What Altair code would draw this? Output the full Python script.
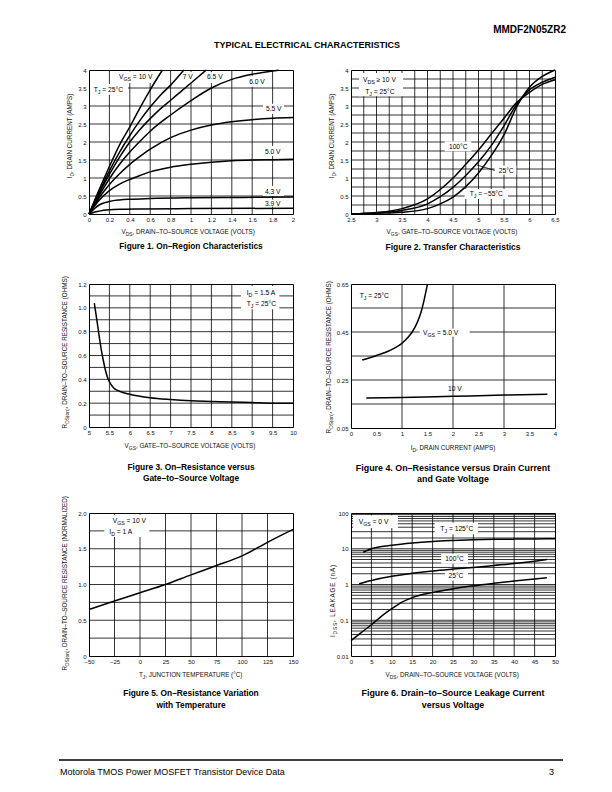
import altair as alt
import numpy as np
import pandas as pd

FONT = "Liberation Sans"

# ---------------- Figure 1: ID vs VDS (curves per VGS) ----------------
f1_vgs10_x = [0, 0.1, 0.2, 0.3, 0.4, 0.5, 0.6, 0.72]
f1_vgs10_y = [0, 0.68, 1.32, 1.92, 2.42, 2.95, 3.45, 4.0]
f1_vgs7_x = [0, 0.1, 0.2, 0.3, 0.4, 0.5, 0.6, 0.7, 0.8, 0.93]
f1_vgs7_y = [0, 0.62, 1.2, 1.72, 2.18, 2.6, 2.97, 3.3, 3.58, 4.0]
f1_vgs65_x = [0, 0.1, 0.2, 0.3, 0.4, 0.5, 0.6, 0.7, 0.8, 0.9, 1.0, 1.15]
f1_vgs65_y = [0, 0.58, 1.1, 1.58, 2.0, 2.35, 2.65, 2.92, 3.16, 3.4, 3.64, 4.0]
f1_vgs6_x = [0, 0.1, 0.2, 0.3, 0.4, 0.5, 0.6, 0.8, 1.0, 1.2, 1.4, 1.6, 1.8, 1.86]
f1_vgs6_y = [0, 0.52, 0.98, 1.38, 1.72, 2.02, 2.3, 2.75, 3.15, 3.5, 3.74, 3.88, 3.97, 3.99]
f1_vgs55_x = [0, 0.1, 0.2, 0.3, 0.4, 0.5, 0.6, 0.8, 1.0, 1.2, 1.4, 1.6, 1.8, 2.0]
f1_vgs55_y = [0, 0.45, 0.82, 1.12, 1.38, 1.6, 1.8, 2.12, 2.33, 2.47, 2.56, 2.62, 2.66, 2.68]
f1_vgs5_x = [0, 0.1, 0.2, 0.3, 0.4, 0.5, 0.6, 0.8, 1.0, 1.2, 1.4, 1.6, 1.8, 2.0]
f1_vgs5_y = [0, 0.38, 0.65, 0.83, 0.96, 1.07, 1.17, 1.3, 1.38, 1.44, 1.48, 1.5, 1.51, 1.52]
f1_vgs43_x = [0, 0.05, 0.1, 0.15, 0.2, 0.3, 0.4, 0.6, 1.0, 1.5, 2.0]
f1_vgs43_y = [0, 0.14, 0.25, 0.31, 0.35, 0.39, 0.41, 0.43, 0.45, 0.46, 0.47]
f1_vgs39_x = [0, 0.05, 0.1, 0.2, 0.3, 0.5, 1.0, 2.0]
f1_vgs39_y = [0, 0.05, 0.08, 0.115, 0.13, 0.14, 0.15, 0.16]

# ---------------- Figure 2: ID vs VGS (transfer) ----------------
f2_vgs = [2.5, 3.0, 3.5, 4.0, 4.25, 4.5, 4.75, 5.0, 5.25, 5.5, 5.75, 6.0, 6.25, 6.5]
f2_t100 = [0.0, 0.04, 0.15, 0.42, 0.68, 1.0, 1.38, 1.78, 2.22, 2.66, 3.1, 3.38, 3.6, 3.73]
f2_t25 = [0.0, 0.03, 0.10, 0.28, 0.48, 0.74, 1.07, 1.45, 1.9, 2.45, 3.05, 3.45, 3.66, 3.8]
f2_tm55 = [0.0, 0.02, 0.05, 0.15, 0.28, 0.47, 0.76, 1.14, 1.62, 2.2, 2.98, 3.52, 3.82, 4.0]
f2_arrow_x = [4.97, 5.32]
f2_arrow_y = [1.36, 1.21]

# ---------------- Figure 3: RDS(on) vs VGS ----------------
f3_vgs = [5.13, 5.2, 5.25, 5.3, 5.35, 5.4, 5.45, 5.5, 5.6, 5.75, 6.0, 6.5, 7.0, 7.5, 8.0, 8.5, 9.0, 9.5, 10.0]
f3_rds = [1.04, 0.88, 0.76, 0.65, 0.56, 0.48, 0.42, 0.38, 0.33, 0.30, 0.275, 0.245, 0.23, 0.22, 0.215, 0.21, 0.205, 0.2, 0.2]

# ---------------- Figure 4: RDS(on) vs ID ----------------
f4_vgs5_id = [0.22, 0.5, 0.75, 1.0, 1.1, 1.2, 1.3, 1.37, 1.43, 1.48, 1.5]
f4_vgs5_r = [0.333, 0.352, 0.372, 0.403, 0.424, 0.45, 0.49, 0.53, 0.58, 0.63, 0.65]
f4_vgs10_id = [0.3, 1.0, 2.0, 3.0, 3.85]
f4_vgs10_r = [0.175, 0.177, 0.182, 0.187, 0.191]

# ---------------- Figure 5: normalized RDS(on) vs TJ ----------------
f5_tj = [-50, -25, 0, 25, 50, 75, 100, 125, 150]
f5_r = [0.65, 0.77, 0.885, 1.0, 1.135, 1.265, 1.4, 1.59, 1.77]

# ---------------- Figure 6: IDSS vs VDS ----------------
f6_t125_x = [3, 5, 10, 15, 20, 25, 30, 35, 40, 45, 50]
f6_t125_y = [8, 10, 12.5, 14.5, 16, 17, 17.8, 18.3, 18.6, 18.8, 19]
f6_t100_x = [2, 5, 10, 15, 20, 25, 30, 35, 40, 45, 48]
f6_t100_y = [1.05, 1.3, 1.7, 2.05, 2.4, 2.7, 3.0, 3.4, 3.85, 4.5, 5.0]
f6_t25_x = [0, 2.5, 5, 7.5, 10, 12.5, 15, 20, 25, 30, 35, 40, 45, 48]
f6_t25_y = [0.027, 0.045, 0.075, 0.13, 0.21, 0.32, 0.43, 0.6, 0.76, 0.92, 1.08, 1.25, 1.42, 1.55]

# ---------------- text helpers ----------------
CW = {' ': 278, '!': 278, '(': 333, ')': 333, ',': 278, '-': 333, '.': 278, '/': 278,
      ':': 278, '=': 584, '≥': 549, '°': 400, '–': 556, '−': 584,
      'A': 667, 'B': 667, 'C': 722, 'D': 722, 'E': 667, 'F': 611, 'G': 778, 'H': 722,
      'I': 278, 'J': 500, 'K': 667, 'L': 556, 'M': 833, 'N': 722, 'O': 778, 'P': 667,
      'Q': 778, 'R': 722, 'S': 667, 'T': 611, 'U': 722, 'V': 667, 'W': 944, 'X': 667,
      'Y': 667, 'Z': 611, 'a': 556, 'b': 556, 'c': 500, 'd': 556, 'e': 556, 'f': 278,
      'g': 556, 'h': 556, 'i': 222, 'j': 222, 'k': 500, 'l': 222, 'm': 833, 'n': 556,
      'o': 556, 'p': 556, 'q': 556, 'r': 333, 's': 500, 't': 278, 'u': 556, 'v': 500,
      'w': 722, 'x': 500, 'y': 500, 'z': 500}


def tw(s, fs):
    return sum(CW.get(ch, 556) for ch in s) * fs / 1000.0


def parse_rich(s):
    parts, buf, i = [], "", 0
    while i < len(s):
        if s.startswith("_{", i):
            if buf:
                parts.append((buf, False))
                buf = ""
            j = s.index("}", i)
            parts.append((s[i + 2:j], True))
            i = j + 1
        else:
            buf += s[i]
            i += 1
    if buf:
        parts.append((buf, False))
    return parts


def rich_segments(s, fs, align, track=0.0):
    segs, pos = [], 0.0
    for t, sub in parse_rich(s):
        f = fs * 0.78 if sub else fs
        drop = fs * 0.3 if sub else 0.0
        if track > 0:
            for ch in t:
                if ch != " ":
                    segs.append({"text": ch, "off": pos, "drop": drop, "size": f})
                pos += tw(ch, f) + track
        else:
            body = t.lstrip(" ")
            pos += tw(" " * (len(t) - len(body)), f)
            if body:
                segs.append({"text": body, "off": pos, "drop": drop, "size": f})
            pos += tw(body, f)
    if track > 0:
        pos -= track
    shift = {"left": 0.0, "center": -pos / 2, "right": -pos}[align]
    for sg in segs:
        sg["off"] += shift
    return segs


def px_text_rows(s, cx, cy, fs, angle=0, align="center", track=0.0):
    rows = []
    for sg in rich_segments(s, fs, align, track):
        if angle == 0:
            rows.append({"px": cx + sg["off"], "py": cy + 0.35 * fs + sg["drop"],
                         "text": sg["text"], "size": sg["size"], "ang": 0})
        else:
            rows.append({"px": cx + 0.35 * fs + sg["drop"], "py": cy - sg["off"],
                         "text": sg["text"], "size": sg["size"], "ang": 270})
    return rows


W = 204
ONE = pd.DataFrame({"a": [0]})


def make_maps(xdom, ydom, h, ylog):
    def x2px(v):
        return (v - xdom[0]) / (xdom[1] - xdom[0]) * W

    def px2x(p):
        return xdom[0] + p / W * (xdom[1] - xdom[0])

    if ylog:
        l0, l1 = np.log10(ydom[0]), np.log10(ydom[1])

        def y2px(v):
            return h - (np.log10(v) - l0) / (l1 - l0) * h

        def px2y(p):
            return float(10 ** (l0 + (h - p) / h * (l1 - l0)))
    else:
        def y2px(v):
            return h - (v - ydom[0]) / (ydom[1] - ydom[0]) * h

        def px2y(p):
            return ydom[0] + (h - p) / h * (ydom[1] - ydom[0])
    return x2px, px2x, y2px, px2y


def data_text_rows(s, x0, yc, fs, maps):
    x2px, px2x, y2px, px2y = maps
    ax, ay = x2px(x0), y2px(yc)
    rows = []
    for sg in rich_segments(s, fs, "left"):
        rows.append({"x": px2x(ax + sg["off"]), "y": px2y(ay + 0.35 * fs + sg["drop"]),
                     "text": sg["text"], "size": sg["size"]})
    return rows


def blank_box(x1, x2, y1, y2):
    return alt.Chart(ONE).mark_rect(opacity=0).encode(
        x=alt.value(x1), x2=alt.value(x2), y=alt.value(y1), y2=alt.value(y2))


AX = dict(ticks=False, domain=False, grid=False, title=None, labelFont=FONT,
          labelFontSize=6, labelColor="#111", labelFlush=False, labelOverlap=False)
ANN_FS = 6.7
TITLE_FS = 6.3


def build_panel(P):
    h = P["h"]
    maps = make_maps(P["xdom"], P["ydom"], h, P["ylog"])
    sx = alt.Scale(domain=P["xdom"], nice=False, zero=False)
    if P["ylog"]:
        sy = alt.Scale(type="log", domain=P["ydom"], nice=False)
    else:
        sy = alt.Scale(domain=P["ydom"], nice=False, zero=False)
    xaxis = alt.Axis(values=P["xlab"], labelPadding=2.5, **P["xfmt"], **AX)
    yaxis = alt.Axis(values=P["ylab"], labelPadding=3, **P["yfmt"], **AX)

    def X(f):
        return alt.X(f, type="quantitative", scale=sx, axis=xaxis)

    def Y(f):
        return alt.Y(f, type="quantitative", scale=sy, axis=yaxis)

    layers = [
        alt.Chart(pd.DataFrame({"gx": P["xgrid"]})).mark_rule(color="black", strokeWidth=0.8)
        .encode(x=X("gx")),
        alt.Chart(pd.DataFrame({"gy": P["ygrid"]})).mark_rule(color="black", strokeWidth=0.8)
        .encode(y=Y("gy")),
    ]
    if P["boxes"]:
        bdf = pd.DataFrame(P["boxes"], columns=["x", "x2", "y", "y2"])
        layers.append(alt.Chart(bdf).mark_rect(color="white").encode(
            x=X("x"), x2="x2:Q", y=Y("y"), y2="y2:Q"))
    rows = []
    for name, xs, ys in P["curves"]:
        for a, b in zip(xs, ys):
            rows.append({"x": a, "y": b, "s": name})
    layers.append(alt.Chart(pd.DataFrame(rows)).mark_line(
        color="black", strokeWidth=1.5, interpolate="monotone").encode(
        x=X("x"), y=Y("y"), detail="s:N"))
    if P.get("thin"):
        trows = []
        for name, xs, ys in P["thin"]:
            for a, b in zip(xs, ys):
                trows.append({"x": a, "y": b, "s": name})
        layers.append(alt.Chart(pd.DataFrame(trows)).mark_line(
            color="black", strokeWidth=0.8).encode(x=X("x"), y=Y("y"), detail="s:N"))
    arows = []
    for s, x0, yc in P["annots"]:
        arows += data_text_rows(s, x0, yc, ANN_FS, maps)
    layers.append(alt.Chart(pd.DataFrame(arows)).mark_text(
        align="left", baseline="alphabetic", font=FONT, color="black").encode(
        x=X("x"), y=Y("y"), text="text:N", size=alt.Size("size:Q", scale=None)))
    trows = []
    xt, xtc = P["xtitle"]
    trows += px_text_rows(xt, xtc[0], xtc[1], TITLE_FS, 0)
    yt, ytc = P["ytitle"]
    trows += px_text_rows(yt, ytc[0], ytc[1], TITLE_FS, 270, track=P.get("ytrack", 0.0))
    layers.append(alt.Chart(pd.DataFrame(trows)).mark_text(
        align="left", baseline="alphabetic", font=FONT, color="#111").encode(
        x=alt.X("px:Q", scale=None), y=alt.Y("py:Q", scale=None),
        text="text:N", size=alt.Size("size:Q", scale=None),
        angle=alt.Angle("ang:Q", scale=None)))
    cdf = pd.DataFrame([{"px": W / 2, "py": cy, "text": t} for t, cy in P["caption"]])
    layers.append(alt.Chart(cdf).mark_text(
        align="center", baseline="middle", font=FONT, fontWeight="bold",
        fontSize=P["capfs"], color="black").encode(
        x=alt.X("px:Q", scale=None), y=alt.Y("py:Q", scale=None), text="text:N"))
    layers.append(blank_box(*P["cell"]))
    return alt.layer(*layers).properties(width=W, height=h)


def steps(a, b, d):
    return [round(v, 4) for v in np.arange(a, b + d / 2, d)]


LBL1 = {"labelExpr": "datum.value == 0 ? '0' : format(datum.value, '.1f')"}
G = {"format": "~g"}
D = {"format": "d"}

P1 = dict(h=144, xdom=[0, 2], ydom=[0, 4], ylog=False,
          xlab=steps(0, 2, 0.2), xgrid=steps(0.2, 1.8, 0.2),
          ylab=steps(0, 4, 0.5), ygrid=steps(0.5, 3.5, 0.5), xfmt=G, yfmt=G,
          boxes=[[0.245, 0.676, 3.96, 3.64], [0.9, 1.04, 3.94, 3.64], [1.137, 1.333, 3.94, 3.64],
                 [1.549, 1.745, 3.83, 3.53], [0.01, 0.382, 3.61, 3.31], [1.706, 1.912, 3.06, 2.78],
                 [1.706, 1.912, 1.89, 1.61], [1.706, 1.912, 0.78, 0.5], [1.706, 1.912, 0.4, 0.2]],
          curves=[("10", f1_vgs10_x, f1_vgs10_y), ("7", f1_vgs7_x, f1_vgs7_y),
                  ("6.5", f1_vgs65_x, f1_vgs65_y), ("6", f1_vgs6_x, f1_vgs6_y),
                  ("5.5", f1_vgs55_x, f1_vgs55_y), ("5", f1_vgs5_x, f1_vgs5_y),
                  ("4.3", f1_vgs43_x, f1_vgs43_y), ("3.9", f1_vgs39_x, f1_vgs39_y)],
          annots=[("V_{GS} = 10 V", 0.294, 3.81), ("7 V", 0.918, 3.81), ("6.5 V", 1.157, 3.81),
                  ("6.0 V", 1.57, 3.69), ("T_{J} = 25°C", 0.046, 3.45), ("5.5 V", 1.735, 2.92),
                  ("5.0 V", 1.725, 1.74), ("4.3 V", 1.725, 0.63), ("3.9 V", 1.725, 0.28)],
          xtitle=("V_{DS}, DRAIN–TO–SOURCE VOLTAGE (VOLTS)", (100, 162)),
          ytitle=("I_{D}, DRAIN CURRENT (AMPS)", (-19.5, 66)),
          caption=[("Figure 1. On–Region Characteristics", 177.3)], capfs=8.3,
          cell=(-80, 232, -11, 195))

P2 = dict(h=144, xdom=[2.5, 6.5], ydom=[0, 4], ylog=False,
          xlab=steps(2.5, 6.5, 0.5), xgrid=steps(2.75, 6.25, 0.25),
          ylab=steps(0, 4, 0.5), ygrid=steps(0.25, 3.75, 0.25), xfmt=G, yfmt=G,
          boxes=[[2.657, 3.52, 3.92, 3.27], [4.337, 4.859, 2.02, 1.74],
                 [5.318, 5.741, 1.342, 1.092], [4.729, 5.578, 0.694, 0.417]],
          curves=[("100", f2_vgs, f2_t100), ("25", f2_vgs, f2_t25), ("-55", f2_vgs, f2_tm55)],
          thin=[("arrow", f2_arrow_x, f2_arrow_y)],
          annots=[("V_{DS} ≥ 10 V", 2.735, 3.73), ("T_{J} = 25°C", 2.78, 3.41),
                  ("100°C", 4.42, 1.88), ("25°C", 5.396, 1.21), ("T_{J} = −55°C", 4.827, 0.556)],
          xtitle=("V_{GS}, GATE–TO–SOURCE VOLTAGE (VOLTS)", (102, 162)),
          ytitle=("I_{D}, DRAIN CURRENT (AMPS)", (-19.5, 66)),
          caption=[("Figure 2. Transfer Characteristics", 177.3)], capfs=8.5,
          cell=(-28, 252, -11, 195))

P3 = dict(h=143, xdom=[5, 10], ydom=[0, 1.2], ylog=False,
          xlab=steps(5, 10, 0.5), xgrid=steps(5.5, 9.5, 0.5),
          ylab=steps(0, 1.2, 0.2), ygrid=steps(0.1, 1.1, 0.1), xfmt=G, yfmt=LBL1,
          boxes=[[8.725, 9.664, 1.183, 0.988]],
          curves=[("r", f3_vgs, f3_rds)],
          annots=[("I_{D} = 1.5 A", 8.865, 1.127), ("T_{J} = 25°C", 8.865, 1.038)],
          xtitle=("V_{GS}, GATE–TO–SOURCE VOLTAGE (VOLTS)", (102, 162)),
          ytitle=("R_{DS(on)}, DRAIN–TO–SOURCE RESISTANCE (OHMS)", (-24.5, 68)),
          caption=[("Figure 3. On–Resistance versus", 182.7), ("Gate–to–Source Voltage", 194.3)],
          capfs=8.4, cell=(-80, 232, -17, 204))

P4 = dict(h=144, xdom=[0, 4], ydom=[0.05, 0.65], ylog=False,
          xlab=steps(0, 4, 0.5), xgrid=[1, 2, 3],
          ylab=[0.05, 0.25, 0.45, 0.65], ygrid=[0.15, 0.25, 0.35, 0.45, 0.55],
          xfmt=G, yfmt={"format": ".2f"},
          boxes=[[1.347, 2.327, 0.465, 0.43]],
          curves=[("5", f4_vgs5_id, f4_vgs5_r), ("10", f4_vgs10_id, f4_vgs10_r)],
          annots=[("T_{J} = 25°C", 0.17, 0.601), ("V_{GS} = 5.0 V", 1.412, 0.449),
                  ("10 V", 1.902, 0.215)],
          xtitle=("I_{D}, DRAIN CURRENT (AMPS)", (102, 164)),
          ytitle=("R_{DS(on)}, DRAIN–TO–SOURCE RESISTANCE (OHMS)", (-22.5, 73)),
          caption=[("Figure 4. On–Resistance versus Drain Current", 183.7),
                   ("and Gate Voltage", 195.3)],
          capfs=8.9, cell=(-28, 252, -17, 204))

P5 = dict(h=143, xdom=[-50, 150], ydom=[0, 2], ylog=False,
          xlab=steps(-50, 150, 25), xgrid=steps(-25, 125, 25),
          ylab=steps(0, 2, 0.5), ygrid=steps(0.25, 1.75, 0.25), xfmt=D, yfmt=LBL1,
          boxes=[[-35, 9.1, 1.976, 1.664]],
          curves=[("r", f5_tj, f5_r)],
          annots=[("V_{GS} = 10 V", -26.8, 1.898), ("I_{D} = 1 A", -30.1, 1.744)],
          xtitle=("T_{J}, JUNCTION TEMPERATURE (°C)", (102, 162)),
          ytitle=("R_{DS(on)}, DRAIN–TO–SOURCE RESISTANCE (NORMALIZED)", (-24.5, 70)),
          caption=[("Figure 5. On–Resistance Variation", 180), ("with Temperature", 191.7)],
          capfs=8.4, cell=(-80, 232, -23, 214))

f6_ygrid = [round(k * 10.0 ** e, 4) for e in range(-2, 2) for k in range(1, 10)][1:]
P6 = dict(h=143, xdom=[0, 50], ydom=[0.01, 100], ylog=True,
          xlab=steps(0, 50, 5), xgrid=steps(5, 45, 5),
          ylab=[0.01, 0.1, 1, 10, 100], ygrid=f6_ygrid, xfmt=D, yfmt=G,
          boxes=[[0.49, 11.5, 86.3, 38.0], [20.5, 31.1, 53.6, 25.4],
                 [22.1, 28.7, 7.28, 3.82], [23.0, 28.7, 2.34, 1.28]],
          curves=[("125", f6_t125_x, f6_t125_y), ("100", f6_t100_x, f6_t100_y),
                  ("25", f6_t25_x, f6_t25_y)],
          annots=[("V_{GS} = 0 V", 1.89, 56.0), ("T_{J} = 125°C", 21.9, 36.4),
                  ("100°C", 23.1, 5.27), ("25°C", 23.9, 1.73)],
          xtitle=("V_{DS}, DRAIN–TO–SOURCE VOLTAGE (VOLTS)", (102, 162)),
          ytitle=("I_{DSS}, LEAKAGE (nA)", (-18, 88)), ytrack=0.8,
          caption=[("Figure 6. Drain–to–Source Leakage Current", 180), ("versus Voltage", 191.7)],
          capfs=8.9, cell=(-28, 252, -23, 214))

# header / footer: origin aligned with the left plot column (page x = 88)
header = alt.layer(
    blank_box(-80, 512, 0, 48),
    alt.Chart(ONE).mark_text(text="MMDF2N05ZR2", font=FONT, fontSize=10, fontWeight="bold",
                             align="right", baseline="middle", color="black")
    .encode(x=alt.value(477), y=alt.value(21)),
    alt.Chart(ONE).mark_text(text="TYPICAL ELECTRICAL CHARACTERISTICS", font=FONT, fontSize=9,
                             fontWeight="bold", align="center", baseline="middle", color="black")
    .encode(x=alt.value(218), y=alt.value(36)),
).properties(width=512, height=48, view=alt.ViewBackground(stroke="transparent"))

footer = alt.layer(
    blank_box(-80, 512, 0, 56),
    alt.Chart(ONE).mark_rule(color="black", strokeWidth=1.3)
    .encode(x=alt.value(-30), x2=alt.value(474), y=alt.value(31)),
    alt.Chart(ONE).mark_text(text="Motorola TMOS Power MOSFET Transistor Device Data", font=FONT,
                             fontSize=9, align="left", baseline="middle", color="black")
    .encode(x=alt.value(-29), y=alt.value(43)),
    alt.Chart(ONE).mark_text(text="3", font=FONT, fontSize=9, align="right",
                             baseline="middle", color="black")
    .encode(x=alt.value(465), y=alt.value(43)),
).properties(width=512, height=56, view=alt.ViewBackground(stroke="transparent"))

row1 = alt.hconcat(build_panel(P1), build_panel(P2), spacing=0)
row2 = alt.hconcat(build_panel(P3), build_panel(P4), spacing=0)
row3 = alt.hconcat(build_panel(P5), build_panel(P6), spacing=0)

chart = alt.vconcat(header, row1, row2, row3, footer, spacing=0).properties(
    padding=0
).configure(font=FONT).configure_view(stroke="black", strokeWidth=1)

chart.save("out.html", embed_options={"renderer": "svg", "actions": False})
